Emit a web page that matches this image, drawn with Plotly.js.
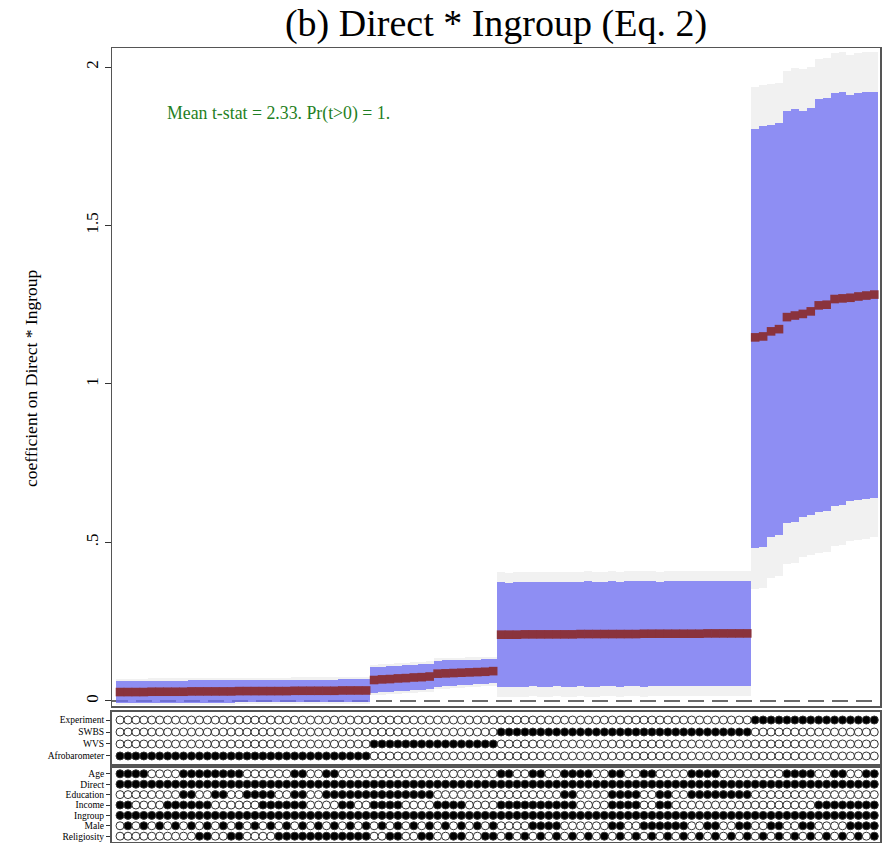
<!DOCTYPE html>
<html>
<head>
<meta charset="utf-8">
<script src="https://cdn.plot.ly/plotly-3.0.1.min.js"></script>
<style>html,body{margin:0;padding:0;background:#fff;}#chart{width:882px;height:843px;}</style>
</head>
<body>
<div id="chart"></div>
<script>
// ---------- DATA ----------
// point estimates (96 specifications, ordered as drawn)
const est = [
  0.028,0.028,0.028,0.028,0.029,0.029,0.029,0.029,0.029,0.030,0.030,0.030,0.030,0.030,0.030,0.031,
  0.031,0.031,0.031,0.031,0.031,0.031,0.032,0.032,0.032,0.032,0.032,0.032,0.033,0.033,0.033,0.033,
  0.066,0.068,0.069,0.071,0.072,0.074,0.075,0.077,0.086,0.087,0.088,0.089,0.090,0.091,0.092,0.094,
  0.209,0.209,0.209,0.210,0.210,0.210,0.210,0.210,0.210,0.210,0.211,0.211,0.211,0.211,0.211,0.211,
  0.211,0.211,0.212,0.212,0.212,0.212,0.212,0.212,0.212,0.212,0.213,0.213,0.213,0.213,0.213,0.213,
  1.147,1.150,1.166,1.173,1.211,1.216,1.221,1.229,1.248,1.250,1.268,1.270,1.272,1.276,1.279,1.282
];
// inner (blue) interval
const lo90 = [
  -0.007,-0.007,-0.007,-0.006,-0.006,-0.006,-0.006,-0.006,-0.006,-0.005,-0.005,-0.005,-0.005,-0.005,-0.005,-0.004,
  -0.004,-0.004,-0.004,-0.004,-0.004,-0.004,-0.003,-0.003,-0.003,-0.003,-0.003,-0.003,-0.002,-0.002,-0.002,-0.002,
  0.026,0.028,0.029,0.031,0.032,0.034,0.035,0.037,0.045,0.046,0.048,0.049,0.051,0.052,0.054,0.056,
  0.044,0.045,0.044,0.045,0.046,0.045,0.045,0.046,0.044,0.045,0.046,0.045,0.045,0.046,0.046,0.045,
  0.046,0.046,0.045,0.046,0.047,0.046,0.046,0.047,0.046,0.047,0.047,0.046,0.047,0.047,0.047,0.048,
  0.482,0.485,0.516,0.524,0.561,0.564,0.579,0.588,0.597,0.598,0.616,0.618,0.632,0.634,0.637,0.641
];
const hi90 = [
  0.063,0.063,0.063,0.063,0.064,0.064,0.064,0.064,0.064,0.065,0.065,0.065,0.065,0.065,0.065,0.066,
  0.066,0.066,0.066,0.066,0.066,0.066,0.067,0.067,0.067,0.067,0.067,0.067,0.068,0.068,0.068,0.068,
  0.106,0.108,0.110,0.111,0.113,0.114,0.116,0.117,0.127,0.128,0.128,0.129,0.130,0.130,0.131,0.132,
  0.374,0.373,0.374,0.375,0.374,0.376,0.375,0.374,0.376,0.375,0.376,0.377,0.376,0.376,0.377,0.376,
  0.377,0.377,0.378,0.377,0.376,0.377,0.378,0.377,0.378,0.377,0.378,0.379,0.378,0.378,0.379,0.378,
  1.806,1.814,1.816,1.822,1.861,1.868,1.862,1.870,1.898,1.901,1.919,1.921,1.912,1.917,1.920,1.922
];
// outer (grey) interval
const lo95 = [
  -0.014,-0.014,-0.014,-0.013,-0.013,-0.013,-0.013,-0.013,-0.013,-0.012,-0.012,-0.012,-0.012,-0.012,-0.012,-0.011,
  -0.011,-0.011,-0.011,-0.011,-0.011,-0.011,-0.010,-0.010,-0.010,-0.010,-0.010,-0.010,-0.009,-0.009,-0.009,-0.009,
  0.018,0.020,0.021,0.023,0.024,0.026,0.027,0.029,0.037,0.038,0.040,0.041,0.043,0.044,0.046,0.048,
  0.012,0.013,0.012,0.013,0.014,0.013,0.013,0.014,0.012,0.013,0.014,0.013,0.013,0.014,0.014,0.013,
  0.014,0.014,0.013,0.014,0.015,0.014,0.014,0.015,0.014,0.015,0.015,0.014,0.015,0.015,0.015,0.016,
  0.352,0.355,0.387,0.394,0.432,0.436,0.453,0.461,0.468,0.471,0.489,0.491,0.506,0.508,0.511,0.516
];
const hi95 = [
  0.070,0.070,0.070,0.070,0.071,0.071,0.071,0.071,0.071,0.072,0.072,0.072,0.072,0.072,0.072,0.073,
  0.073,0.073,0.073,0.073,0.073,0.073,0.074,0.074,0.074,0.074,0.074,0.074,0.075,0.075,0.075,0.075,
  0.114,0.116,0.118,0.119,0.121,0.122,0.124,0.125,0.135,0.136,0.136,0.137,0.138,0.138,0.139,0.140,
  0.406,0.405,0.406,0.407,0.406,0.408,0.407,0.406,0.408,0.407,0.408,0.409,0.408,0.408,0.409,0.408,
  0.409,0.409,0.410,0.409,0.408,0.409,0.410,0.409,0.410,0.409,0.410,0.411,0.410,0.410,0.411,0.410,
  1.936,1.943,1.945,1.951,1.988,1.998,1.993,1.999,2.025,2.030,2.045,2.048,2.038,2.043,2.046,2.048
];

// specification indicators (1 = filled dot)
const sampleRows = ['Afrobarometer','WVS','SWBS','Experiment'];
const sampleFlags = {
  'Experiment':    '000000000000000000000000000000000000000000000000' + '000000000000000000000000000000001111111111111111',
  'SWBS':          '000000000000000000000000000000000000000000000000' + '111111111111111111111111111111110000000000000000',
  'WVS':           '000000000000000000000000000000001111111111111111' + '000000000000000000000000000000000000000000000000',
  'Afrobarometer': '111111111111111111111111111111110000000000000000' + '000000000000000000000000000000000000000000000000'
};
const controlRows = ['Religiosity','Male','Ingroup','Income','Education','Direct','Age'];
const controlFlags = {
  'Age':         '11110000111111110000001100110000' + '0000000000000000' + '11001100111100110011000011110000' + '0000111100110011',
  'Direct':      '11111111111111111111111111111111' + '1111111111111111' + '11111111111111111111111111111111' + '1111111111111111',
  'Education':   '00000000110011001111001100111111' + '1111111100000000' + '00000000110000111100110011111111' + '0000000000000000',
  'Income':      '11000011111100000011111100001100' + '1111000011110000' + '11111111110000111100110000000000' + '0000000011111111',
  'Ingroup':     '11111111111111111111111111111111' + '1111111111111111' + '11111111111111111111111111111111' + '1111111111111111',
  'Male':        '01010101010101010101010101010101' + '0101010101010101' + '00001111000000110011111100110011' + '0011001100001111',
  'Religiosity': '00000000001100110000111111111111' + '0011001100110011' + '01010101010101010101010101010101' + '0101010101010101'
};

const yTickVals = [0, 0.5, 1, 1.5, 2];
const yTickText = ['0', '.5', '1', '1.5', '2'];
const noteText = 'Mean t-stat = 2.33. Pr(t>0) = 1.';

// ---------- BUILD ----------
const spec = est.map((_, i) => i);
const serif = 'Liberation Serif, Times New Roman, serif';

const traces = [];
traces.push({
  type: 'bar', x: spec, base: lo95, y: hi95.map((h, i) => h - lo95[i]),
  width: 1, marker: {color: 'rgba(215,215,215,0.35)', line: {width: 0}},
  xaxis: 'x', yaxis: 'y', hoverinfo: 'skip', showlegend: false
});
traces.push({
  type: 'bar', x: spec, base: lo90, y: hi90.map((h, i) => h - lo90[i]),
  width: 1, marker: {color: 'rgba(95,95,243,0.68)', line: {width: 0}},
  xaxis: 'x', yaxis: 'y', hoverinfo: 'skip', showlegend: false
});
traces.push({
  type: 'scatter', mode: 'markers', x: spec, y: est,
  marker: {symbol: 'square', size: 8.6, color: '#8a333d', line: {width: 0}},
  xaxis: 'x', yaxis: 'y', hoverinfo: 'skip', showlegend: false
});

function dotTrace(rows, flags, xa, ya) {
  const xs = [], ys = [], fill = [];
  rows.forEach((r, k) => {
    const f = flags[r];
    for (let i = 0; i < spec.length; i++) {
      xs.push(spec[i]); ys.push(k); fill.push(f[i] === '1' ? '#000000' : '#ffffff');
    }
  });
  return {
    type: 'scatter', mode: 'markers', x: xs, y: ys,
    marker: {symbol: 'circle', size: 8, color: fill, line: {color: '#333', width: 1}},
    xaxis: xa, yaxis: ya, hoverinfo: 'skip', showlegend: false
  };
}
traces.push(dotTrace(sampleRows, sampleFlags, 'x2', 'y2'));
traces.push(dotTrace(controlRows, controlFlags, 'x3', 'y3'));

const H = 843;
const xr = [-1.01, 95.72];
const xBase = {range: xr, showticklabels: false, ticks: '', showgrid: false, zeroline: false,
  showline: true, mirror: true, linecolor: '#555', linewidth: 1.5, fixedrange: true};

const layout = {
  width: 882, height: 843,
  margin: {l: 112, r: 2, t: 0, b: 0},
  paper_bgcolor: '#fff', plot_bgcolor: '#fff',
  barmode: 'overlay', bargap: 0,
  font: {family: serif, color: '#000'},
  title: {text: '(b) Direct * Ingroup (Eq. 2)', font: {family: serif, size: 38, color: '#000'},
    xref: 'paper', x: 0.5, xanchor: 'center', yref: 'container', y: 1 - 23 / H, yanchor: 'middle'},
  xaxis: Object.assign({}, xBase, {anchor: 'y', domain: [0, 1]}),
  xaxis2: Object.assign({}, xBase, {anchor: 'y2', matches: 'x', linewidth: 2}),
  xaxis3: Object.assign({}, xBase, {anchor: 'y3', matches: 'x', linewidth: 2}),
  yaxis: {domain: [1 - 706 / H, 1 - 48 / H], range: [-0.016, 2.06], tickvals: yTickVals, ticktext: yTickText,
    tickangle: -90, ticks: 'outside', ticklen: 6, tickcolor: '#333', tickfont: {family: serif, size: 17},
    showgrid: false, zeroline: false, showline: true, mirror: true, linecolor: '#555', linewidth: 1.5, anchor: 'x'},
  yaxis2: {domain: [1 - 764 / H, 1 - 712 / H], range: [-0.67, 3.67], tickvals: [0, 1, 2, 3], ticktext: sampleRows,
    ticks: 'outside', ticklen: 4, tickcolor: '#333', tickfont: {family: serif, size: 9.5},
    showgrid: false, zeroline: false, showline: true, mirror: true, linecolor: '#555', linewidth: 2, anchor: 'x2'},
  yaxis3: {domain: [1 - 842 / H, 1 - 768 / H], range: [-0.56, 6.56], tickvals: [0, 1, 2, 3, 4, 5, 6], ticktext: controlRows,
    ticks: 'outside', ticklen: 4, tickcolor: '#333', tickfont: {family: serif, size: 9.5},
    showgrid: false, zeroline: false, showline: true, mirror: true, linecolor: '#555', linewidth: 2, anchor: 'x3'},
  shapes: [{type: 'line', xref: 'x domain', yref: 'y', x0: 0, x1: 1, y0: 0, y1: 0, layer: 'below',
    line: {color: '#6a6a6a', width: 2, dash: '16px,8px'}}],
  annotations: [
    {text: noteText, xref: 'paper', yref: 'paper', x: (165 - 112) / 768, y: 1 - 113 / H, xanchor: 'left', yanchor: 'middle',
      showarrow: false, font: {family: serif, size: 17.8, color: '#1f7f24'}},
    {text: 'coefficient on Direct * Ingroup', xref: 'paper', yref: 'paper', x: (31 - 112) / 768, y: 1 - 378 / H,
      xanchor: 'center', yanchor: 'middle', textangle: -90, showarrow: false, font: {family: serif, size: 17.5, color: '#000'}}
  ]
};

Plotly.newPlot('chart', traces, layout, {displayModeBar: false, staticPlot: true});
</script>
</body>
</html>
